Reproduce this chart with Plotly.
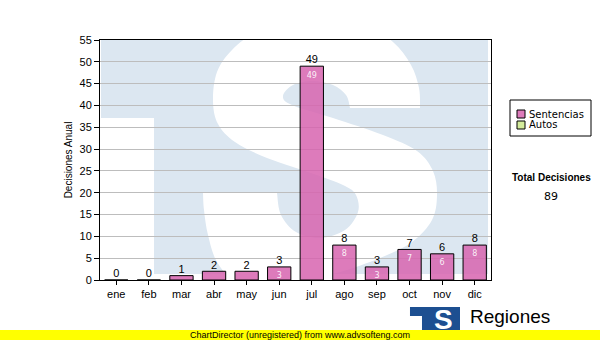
import plotly.graph_objects as go

# ---------------- data ----------------
months = ["ene", "feb", "mar", "abr", "may", "jun", "jul", "ago", "sep", "oct", "nov", "dic"]
sentencias = [0, 0, 1, 2, 2, 3, 49, 8, 3, 7, 6, 8]
autos = [0, 0, 0, 0, 0, 0, 0, 0, 0, 0, 0, 0]
series_names = ["Sentencias", "Autos"]
series_colors = ["#dd7bbb", "#d4ec9c"]
y_title = "Decisiones Anual"
total_label = "Total Decisiones"
total_value = sum(sentencias) + sum(autos)
y_max = 55
y_step = 5

# ---------------- geometry helpers (pixel -> axis / paper) ----------------
L, R, T, B = 100, 109, 40, 60
W, H = 600, 340
PW, PH = W - L - R, H - T - B
N = len(months)


def dx(px):
    return (px - L) / PW * N - 0.5


def dy(py):
    return (T + PH - py) / PH * y_max


def qx(px):
    return (px - L) / PW


def qy(py):
    return (T + PH - py) / PH


def smooth(pts):
    s = ""
    n = len(pts)
    for i in range(n - 1):
        p0 = pts[i - 1] if i > 0 else pts[i]
        p1 = pts[i]
        p2 = pts[i + 1]
        p3 = pts[i + 2] if i + 2 < n else pts[i + 1]
        c1 = (p1[0] + (p2[0] - p0[0]) / 6, p1[1] + (p2[1] - p0[1]) / 6)
        c2 = (p2[0] - (p3[0] - p1[0]) / 6, p2[1] - (p3[1] - p1[1]) / 6)
        s += " C{:.4f},{:.4f} {:.4f},{:.4f} {:.4f},{:.4f}".format(
            dx(c1[0]), dy(c1[1]), dx(c2[0]), dy(c2[1]), dx(p2[0]), dy(p2[1]))
    return s


def line_to(p):
    return " L{:.4f},{:.4f}".format(dx(p[0]), dy(p[1]))


# watermark "S" outline (pixel space, decoration only)
run2 = [(350, 108), (346, 95), (333, 85), (313, 81), (293, 85), (283, 96), (292, 105),
        (333, 118), (383, 135), (417, 151), (433, 171), (437, 195), (432, 220),
        (412, 242), (380, 258), (340, 272), (300, 281), (262, 286), (236, 282),
        (217, 262), (208, 235), (204, 210), (203, 193)]
run4 = [(277, 193), (281, 215), (296, 232), (320, 238), (345, 230), (358, 212),
        (356, 195), (345, 186), (317, 175), (267, 158), (235, 142), (218, 124),
        (213, 101), (217, 72), (232, 50), (255, 33), (290, 22), (330, 19), (365, 25),
        (393, 42), (411, 65), (419, 88), (420, 108)]
s_path = "M{:.4f},{:.4f}".format(dx(420), dy(108)) + line_to((350, 108)) + smooth(run2) \
    + line_to((277, 193)) + smooth(run4) + " Z"

WM = "#dce7f1"
shapes = [
    dict(type="rect", xref="x", yref="y", x0=dx(101), x1=dx(488), y0=dy(274), y1=dy(40),
         fillcolor=WM, line=dict(width=0), layer="below"),
    dict(type="rect", xref="x", yref="y", x0=dx(100), x1=dx(154), y0=dy(281), y1=dy(118),
         fillcolor="white", line=dict(width=0), layer="below"),
    dict(type="path", xref="x", yref="y", path=s_path, fillcolor="white", fillrule="nonzero",
         line=dict(width=0), layer="below"),
]

# manual legend box
shapes.append(dict(type="rect", xref="paper", yref="paper", x0=qx(510), x1=qx(591),
                   y0=qy(136), y1=qy(100), fillcolor="white",
                   line=dict(color="black", width=1)))
annotations = []
for i, (nm, col) in enumerate(zip(series_names, series_colors)):
    cy = 114 + i * 11
    shapes.append(dict(type="rect", xref="paper", yref="paper", x0=qx(517), x1=qx(525),
                       y0=qy(cy + 4), y1=qy(cy - 4), fillcolor=col,
                       line=dict(color="black", width=1)))
    annotations.append(dict(xref="paper", yref="paper", x=qx(527), y=qy(cy), text=nm,
                            showarrow=False, xanchor="left", yanchor="middle",
                            font=dict(family="DejaVu Sans", size=10, color="black")))

annotations.append(dict(xref="paper", yref="paper", x=qx(551), y=qy(177), text="<b>" + total_label + "</b>",
                        showarrow=False, xanchor="center", yanchor="middle",
                        font=dict(family="Liberation Sans", size=10, color="black")))
annotations.append(dict(xref="paper", yref="paper", x=qx(551), y=qy(196), text=str(total_value),
                        showarrow=False, xanchor="center", yanchor="middle",
                        font=dict(family="DejaVu Sans", size=11, color="black")))

# bottom logo
logo = "M{:.4f},{:.4f} L{:.4f},{:.4f} L{:.4f},{:.4f} L{:.4f},{:.4f} L{:.4f},{:.4f} L{:.4f},{:.4f} Z".format(
    qx(410), qy(307), qx(460), qy(307), qx(460), qy(331), qx(422), qy(331), qx(422), qy(316), qx(410), qy(316))
shapes.append(dict(type="path", xref="paper", yref="paper", path=logo, fillcolor="#1d4f91",
                   line=dict(width=0)))
annotations.append(dict(xref="paper", yref="paper", x=qx(443), y=qy(319), text="<b>S</b>",
                        showarrow=False, xanchor="center", yanchor="middle",
                        font=dict(family="Liberation Sans", size=28, color="white")))
annotations.append(dict(xref="paper", yref="paper", x=qx(468), y=qy(316), text="Regiones",
                        showarrow=False, xanchor="left", yanchor="middle",
                        font=dict(family="Liberation Sans", size=19, color="black")))
# yellow banner
shapes.append(dict(type="rect", xref="paper", yref="paper", x0=qx(0), x1=qx(600),
                   y0=qy(340), y1=qy(330), fillcolor="#ffff00", line=dict(width=0), layer="above"))
annotations.append(dict(xref="paper", yref="paper", x=qx(300), y=qy(335),
                        text="ChartDirector (unregistered) from www.advsofteng.com",
                        showarrow=False, xanchor="center", yanchor="middle",
                        font=dict(family="Liberation Sans", size=9, color="black")))

# ---------------- traces ----------------
idx = list(range(N))
fig = go.Figure()
fig.add_trace(go.Bar(x=idx, y=sentencias, name=series_names[0], width=0.715,
                     marker=dict(color="rgba(215,100,175,0.85)", line=dict(color="black", width=1)),
                     showlegend=False, hoverinfo="skip"))
fig.add_trace(go.Bar(x=idx, y=autos, name=series_names[1], width=0.715,
                     marker=dict(color=series_colors[1], line=dict(width=0)),
                     showlegend=False, hoverinfo="skip"))
fig.add_trace(go.Scatter(x=idx, y=sentencias, mode="text", text=[str(v) for v in sentencias],
                         textposition="top center", cliponaxis=False, showlegend=False,
                         hoverinfo="skip",
                         textfont=dict(family="Liberation Sans", size=11, color="black")))
inside = [(i, v) for i, v in zip(idx, sentencias) if v >= 3]
fig.add_trace(go.Scatter(x=[p[0] for p in inside], y=[p[1] for p in inside], mode="markers+text",
                         marker=dict(size=7, opacity=0), hoverinfo="skip",
                         text=[str(p[1]) for p in inside], textposition="bottom center",
                         cliponaxis=False, showlegend=False,
                         textfont=dict(family="DejaVu Sans", size=8, color="rgba(255,255,255,0.9)")))

fig.update_layout(
    width=W, height=H, autosize=False,
    margin=dict(l=L, r=R, t=T, b=B, pad=0),
    paper_bgcolor="white", plot_bgcolor="white",
    barmode="overlay", showlegend=False,
    shapes=shapes, annotations=annotations,
    font=dict(family="Liberation Sans", size=11, color="black"),
)
fig.update_xaxes(range=[-0.5, N - 0.5], tickvals=idx, ticktext=months, showgrid=False,
                 zeroline=False, showline=True, linecolor="black", linewidth=1, mirror=True,
                 ticks="outside", ticklen=4, tickcolor="black",
                 tickfont=dict(family="Liberation Sans", size=11, color="black"))
fig.update_yaxes(range=[0, y_max], tick0=0, dtick=y_step, showgrid=True, gridcolor="#bdbdbd",
                 gridwidth=1, zeroline=False, showline=True, linecolor="black", linewidth=1,
                 mirror=True, ticks="outside", ticklen=5, tickcolor="black",
                 tickfont=dict(family="Liberation Sans", size=11, color="black"),
                 title=dict(text=y_title, standoff=5,
                            font=dict(family="Liberation Sans", size=10, color="black")))

fig.write_html("out.html")
